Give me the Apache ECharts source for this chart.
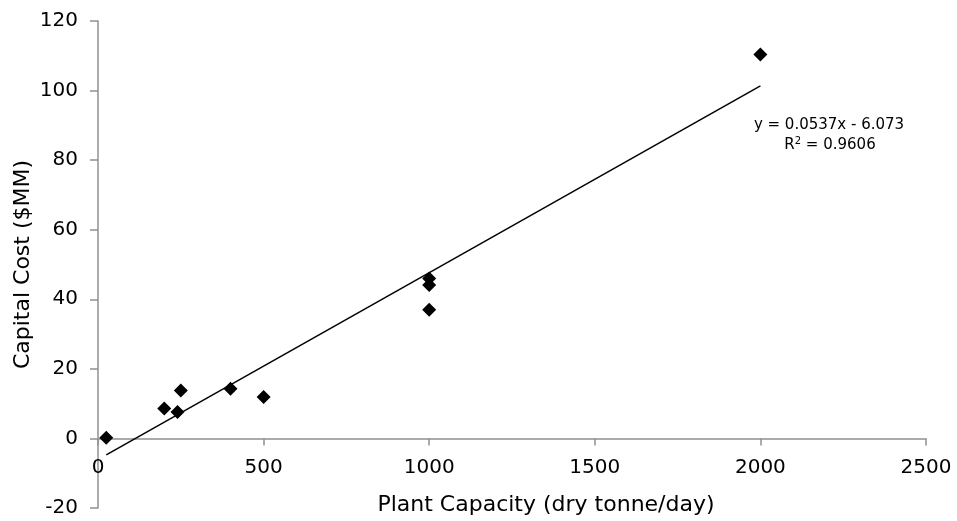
<!DOCTYPE html>
<html>
<head>
<meta charset="utf-8">
<script src="https://cdn.jsdelivr.net/npm/echarts@6/dist/echarts.min.js"></script>
<style>html,body{margin:0;padding:0;background:#fff}#c{width:957px;height:521px}</style>
</head>
<body>
<div id="c"></div>
<script>
const capacity = [25, 200, 240, 250, 400, 500, 1000, 1000, 1000, 2000];
const capitalCost = [0.2, 8.6, 7.6, 13.8, 14.3, 11.9, 46.0, 44.1, 37.0, 110.4];
const trendSlope = 0.0537;
const trendIntercept = -6.073;
const trendR2 = 0.9606;
const xTicks = [0, 500, 1000, 1500, 2000, 2500];
const yTicks = [-20, 0, 20, 40, 60, 80, 100, 120];

const points = capacity.map((x, i) => [x, capitalCost[i]]);
const xMin = Math.min(...capacity), xMax = Math.max(...capacity);
const trend = [xMin, xMax].map(x => [x, trendSlope * x + trendIntercept]);

const W = 957, H = 521;
const gridTop = 21, gridBottom = 13, gridLeft = 98, gridRight = 31;
const yMin = yTicks[0], yMax = yTicks[yTicks.length - 1];
const gridH = H - gridTop - gridBottom;
const zeroOffset = -gridH * (0 - yMin) / (yMax - yMin);

const font = '"DejaVu Sans", Arial, Helvetica, sans-serif';
const axisGrey = '#909090';
const chart = echarts.init(document.getElementById('c'), null, {renderer: 'canvas'});
chart.setOption({
  animation: false,
  backgroundColor: '#fff',
  grid: {left: gridLeft, right: gridRight, top: gridTop, bottom: gridBottom, containLabel: false, outerBoundsMode: 'none'},
  xAxis: {
    type: 'value', position: 'bottom', offset: zeroOffset,
    min: xTicks[0], max: xTicks[xTicks.length - 1], interval: 500,
    name: 'Plant Capacity (dry tonne/day)', nameLocation: 'middle', nameGap: 56,
    nameTextStyle: {fontFamily: font, fontSize: 22, color: '#000', padding: [0, 0, 0, 68]},
    axisLine: {show: true, onZero: false, lineStyle: {color: axisGrey, width: 1.5}},
    axisTick: {show: true, inside: false, length: 7, lineStyle: {color: axisGrey, width: 1.5}},
    axisLabel: {fontFamily: font, fontSize: 20, color: '#000', margin: 19, formatter: v => String(v)},
    splitLine: {show: false}
  },
  yAxis: {
    type: 'value', min: yMin, max: yMax, interval: 20,
    name: 'Capital Cost ($MM)', nameLocation: 'middle', nameGap: 64, nameRotate: 90,
    nameMoveOverlap: false,
    nameTextStyle: {fontFamily: font, fontSize: 22, color: '#000', padding: [0, 0, 0, 0]},
    axisLine: {show: true, onZero: false, lineStyle: {color: axisGrey, width: 1.5}},
    axisTick: {show: true, length: 8, lineStyle: {color: axisGrey, width: 1.5}},
    axisLabel: {fontFamily: font, fontSize: 20, color: '#000', margin: 20, formatter: v => String(v)},
    splitLine: {show: false}
  },
  series: [
    {
      type: 'line', data: trend, showSymbol: false, symbol: 'none',
      lineStyle: {color: '#000', width: 1.5}, z: 2, silent: true
    },
    {
      type: 'scatter', data: points, symbol: 'diamond', symbolSize: 14,
      itemStyle: {color: '#000', opacity: 1}, z: 3
    }
  ],
  graphic: [
    {
      type: 'text', x: 829, y: 125,
      style: {
        text: 'y = ' + trendSlope + 'x - ' + Math.abs(trendIntercept),
        font: '15px ' + font, fill: '#000', textAlign: 'center', textVerticalAlign: 'middle'
      }
    },
    {
      type: 'text', x: 830, y: 145,
      style: {
        text: 'R{sup|2} = ' + trendR2,
        rich: {sup: {fontSize: 10, verticalAlign: 'top', padding: [0, 0, 7, 0], fontFamily: font, fill: '#000'}},
        font: '15px ' + font, fill: '#000', textAlign: 'center', textVerticalAlign: 'middle'
      }
    }
  ]
});
</script>
</body>
</html>
